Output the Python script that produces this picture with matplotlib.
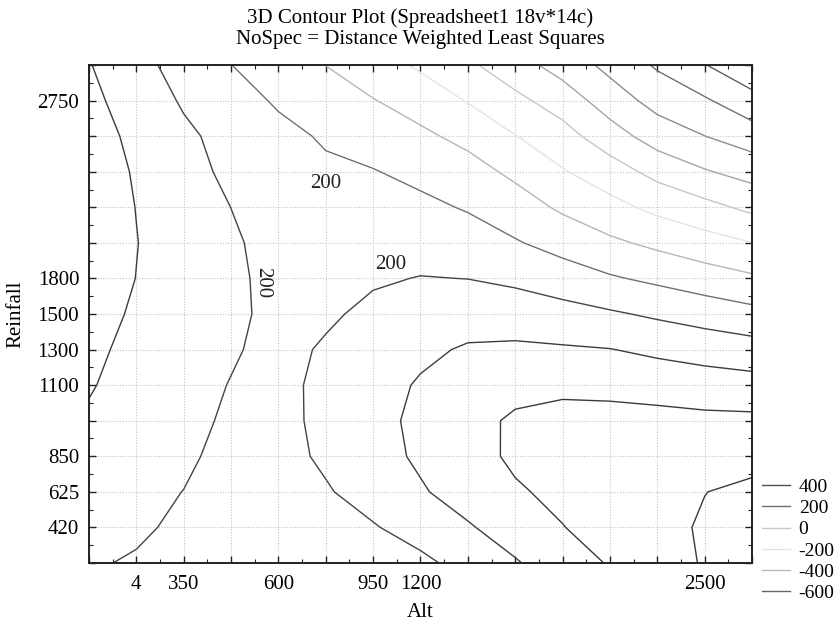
import matplotlib
matplotlib.use("Agg")
import matplotlib.pyplot as plt
from matplotlib.lines import Line2D
import numpy as np

# axis categories (grid index -> printed tick label, blank = unlabeled tick)
alt_labels = ["", "4", "350", "", "600", "", "950", "1200", "", "", "", "", "", "2500", ""]
rain_labels = ["", "420", "625", "850", "", "1100", "1300", "1500", "1800", "", "", "", "", "2750", ""]

# fitted surface, one row per Reinfall grid line (bottom -> top)
z_rows = [
    [426, 375, 345, 325, 315, 315, 325, 355, 470, 584, 700, 815, 916, 1015, 1060],
    [470, 440, 351, 325, 320, 330, 385, 484, 582, 688, 795, 871, 945, 1020, 1060],
    [510, 460, 397, 335, 330, 382, 482, 581, 681, 780, 841, 893, 945, 997, 1040],
    [550, 510, 440, 329, 335, 432, 530, 629, 734, 830, 850, 880, 905, 925, 940],
    [580, 520, 450, 373, 346, 446, 545, 640, 731, 831, 870, 873, 863, 846, 842],
    [612, 539, 466, 393, 354, 441, 529, 618, 700, 735, 753, 740, 717, 692, 673],
    [632, 561, 490, 419, 346, 421, 491, 562, 620, 630, 620, 605, 562, 522, 484],
    [657, 581, 507, 433, 358, 373, 440, 478, 515, 510, 471, 424, 370, 315, 260],
    [690, 598, 516, 434, 349, 360, 380, 406, 398, 360, 296, 221, 160, 95, 31],
    [690, 604, 515, 426, 333, 330, 323, 325, 292, 216, 128, 36, -43, -122, -198],
    [700, 597, 499, 399, 340, 300, 266, 244, 184, 90, -31, -139, -250, -341, -445],
    [700, 583, 470, 357, 270, 229, 209, 149, 74, -41, -185, -308, -461, -583, -676],
    [680, 557, 434, 340, 249, 180, 112, 37, -53, -194, -326, -510, -693, -798, -901],
    [648, 510, 380, 276, 178, 89, 8, -82, -211, -352, -489, -699, -869, -975, -1131],
    [610, 461, 327, 202, 100, -2, -113, -230, -365, -517, -683, -855, -1025, -1192, -1358],
]

levels = [-1200, -1000, -800, -600, -400, -200, 0, 200, 400, 600, 800, 1000]
level_colors = ["#5e5e5e", "#707070", "#8c8c8c", "#a6a6a6", "#c6c6c6", "#e4e4e4",
                "#b6b6b6", "#707070", "#444444", "#3c3c3c", "#3a3a3a", "#3a3a3a"]

legend_labels = ["400", "200", "0", "-200", "-400", "-600"]
legend_colors = ["#505050", "#707070", "#c8c8c8", "#e2e2e2", "#bababa", "#666666"]

# contour value labels as printed on the chart: (x, y, text, rotation)
contour_notes = [(4.99, 10.67, "200", 0), (6.37, 8.38, "200", 0), (3.66, 7.89, "200", -90)]

plt.rcParams["font.family"] = ["Liberation Serif", "DejaVu Serif"]

fig = plt.figure(figsize=(8.37, 6.24), dpi=100)
ax = fig.add_axes([0.1063, 0.0978, 0.7921, 0.798])

z = np.array(z_rows, dtype=float)
gx = np.arange(z.shape[1])
gy = np.arange(z.shape[0])
ax.contour(gx, gy, z, levels=levels, colors=level_colors, linewidths=1.0)

for x, y, txt, rot in contour_notes:
    ax.text(x, y, txt, fontsize=15, ha="center", va="center", rotation=rot, color="#222222")

ax.set_xlim(0, len(alt_labels) - 1)
ax.set_ylim(0, len(rain_labels) - 1)
ax.set_xticks(gx)
ax.set_xticklabels(alt_labels)
ax.set_yticks(gy)
ax.set_yticklabels(rain_labels)
ax.set_xticks(gx[:-1] + 0.5, minor=True)
ax.set_yticks(gy[:-1] + 0.5, minor=True)
ax.tick_params(which="both", direction="in", top=True, right=True, labelsize=15, color="#222222")
ax.tick_params(which="major", length=5, width=1.0, pad=7)
ax.tick_params(axis="x", which="major", pad=9)
ax.tick_params(which="minor", length=3, width=0.8)
ax.grid(True, which="major", color="#c4c4c4", linestyle=(0, (1, 1.5)), linewidth=0.8)
for s in ax.spines.values():
    s.set_linewidth(1.4)
    s.set_color("#222222")

ax.set_xlabel("Alt", fontsize=15, labelpad=6)
ax.set_ylabel("Reinfall", fontsize=15, labelpad=9)
ax.set_title("3D Contour Plot (Spreadsheet1 18v*14c)\nNoSpec = Distance Weighted Least Squares",
             fontsize=15, pad=15, linespacing=1.15)

handles = [Line2D([], [], color=c, lw=1.0) for c in legend_colors]
ax.legend(handles, legend_labels, loc="upper left", bbox_to_anchor=(1.0, 0.19), frameon=False,
          fontsize=14, handlelength=1.45, handletextpad=0.45, labelspacing=0.19, borderpad=0.2,
          borderaxespad=0.3)

fig.savefig("out.png", dpi=100)
